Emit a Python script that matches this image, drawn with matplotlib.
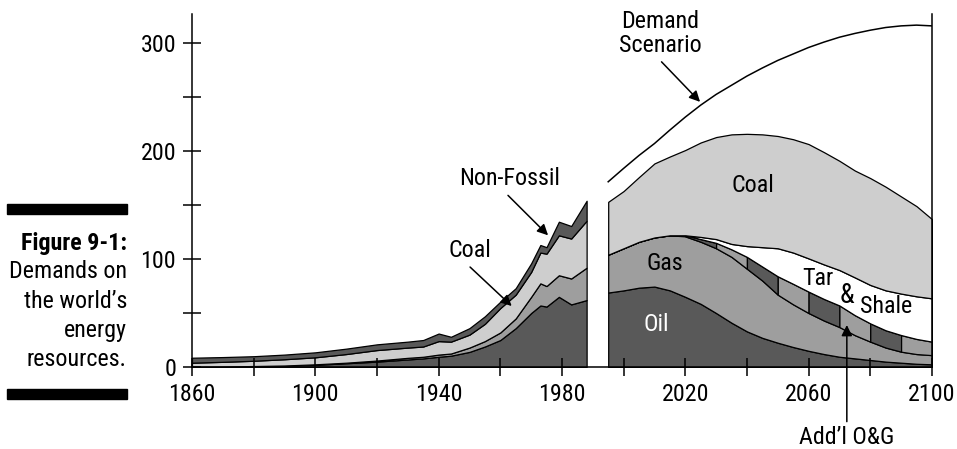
import numpy as np
import matplotlib
matplotlib.use("Agg")
from matplotlib import pyplot as plt
from matplotlib import font_manager as fm
from matplotlib.patches import Rectangle

# pick a narrow sans face if one is available
NARROW_STRETCH = {'ultra-condensed', 'extra-condensed', 'condensed', 'semi-condensed'}
entries = fm.fontManager.ttflist
family, stretch = 'DejaVu Sans', 'normal'
for name in ['Roboto Condensed', 'Liberation Sans Narrow', 'Arial Narrow', 'Open Sans Condensed']:
    if any(f.name == name for f in entries):
        family = name
        break
else:
    for name in ['Roboto', 'Noto Sans', 'Open Sans', 'DejaVu Sans', 'Liberation Sans']:
        hit = [f for f in entries if f.name == name and
               (f.stretch in NARROW_STRETCH or (isinstance(f.stretch, int) and f.stretch < 500))]
        if hit:
            family, stretch = name, 'condensed'
            break

plt.rcParams['font.family'] = [family, 'DejaVu Sans']
plt.rcParams['font.stretch'] = stretch

# size so that the label "Non-Fossil" is about 101 px wide
probe = plt.figure(dpi=100)
t = probe.text(0, 0, 'Non-Fossil', fontsize=17)
w = t.get_window_extent(renderer=probe.canvas.get_renderer()).width
plt.close(probe)
FS = float(np.clip(17 * 101 / w, 13, 20))
plt.rcParams['font.size'] = FS

DARK = '#595959'
MID = '#9e9e9e'
LIGHT = '#cecece'

# historical consumption by source, stacked bottom to top
hist_years = [1860, 1870, 1880, 1890, 1900, 1910, 1920, 1930, 1935, 1940, 1944,
              1950, 1955, 1960, 1965, 1970, 1973, 1975, 1979, 1983, 1988]
hist_oil = [0.3, 0.5, 0.8, 1.2, 2, 3.5, 5, 7, 8, 9.5, 10.5,
            14, 19, 25, 36, 50, 57, 56, 65, 58, 62]
hist_gas = [0, 0, 0.1, 0.2, 0.5, 0.5, 1, 1.5, 1.5, 2, 2,
            4, 5, 7, 9, 15, 20.5, 19, 20, 24, 30]
hist_coal = [3.7, 4.3, 4.9, 5.8, 6.5, 8, 9.7, 9.5, 9.5, 12.5, 11,
             12, 16, 22.6, 22, 23, 28.5, 30, 37, 37, 43.5]
hist_nonfossil = [4.6, 4.4, 4.2, 4.3, 4.6, 5, 5.3, 5.5, 6, 7, 4.5,
                  6, 7, 5.9, 6, 8, 7, 6, 12.6, 11.6, 18.5]

# projected supply by source, stacked bottom to top
proj_years = [1995, 2000, 2005, 2010, 2015, 2020, 2025, 2030, 2035, 2040, 2045,
              2050, 2055, 2060, 2065, 2070, 2075, 2080, 2085, 2090, 2095, 2100]
proj_oil = [69, 71, 73.5, 74.5, 71, 65, 58.5, 50, 41, 33, 27,
            22.5, 18.5, 15, 12, 9.5, 8, 6.5, 5, 4, 3, 2.5]
proj_gas = [35, 39, 42.5, 45.5, 51, 56, 57.5, 60, 61, 58, 53,
            44.5, 39.5, 35, 31, 27.5, 21.5, 17, 13, 10.2, 9, 8.5]
proj_addl_og = [0, 0, 0, 0, 0, 1, 2.5, 5, 7, 11, 13,
                17, 19, 19.8, 20, 20, 18.5, 16.9, 16, 15.4, 14, 12.5]
proj_tar_shale = [0, 0, 0, 0, 0, 0, 2, 3.5, 5, 10, 18,
                  26, 29, 30.8, 32, 32.8, 35, 35.6, 37, 38.4, 39.5, 40.1]
proj_coal = [49, 53, 60, 68.6, 73, 79, 87.5, 94.5, 101.5, 104, 104.5,
             104, 105, 105.9, 104, 101.2, 99, 99, 96, 90, 83.5, 73.4]
demand_scenario = [171.6, 184, 196, 207, 219.5, 231.5, 242.6, 252.5, 261, 269.5, 277,
                   284, 290, 296, 301, 305.5, 309, 312, 314.5, 316, 316.7, 316]

# decades that split the additional oil & gas band into alternating stripes
stripe_edges = [2020, 2030, 2040, 2050, 2060, 2070, 2080, 2090, 2100]

fig = plt.figure(figsize=(9.57, 4.49), dpi=100)
ax = fig.add_axes([0.2006, 0.1826, 0.7732, 0.7862])

edge = dict(edgecolor='black', linewidth=0.9)

# historical stack
hx = np.array(hist_years)
hs = np.cumsum(np.vstack([hist_oil, hist_gas, hist_coal, hist_nonfossil]), axis=0)
hist_colors = [DARK, MID, LIGHT, DARK]
lower = np.zeros(len(hx))
for top, col in zip(hs, hist_colors):
    ax.fill_between(hx, lower, top, facecolor=col, **edge)
    lower = top

# projection stack
px = np.array(proj_years)
ps = np.cumsum(np.vstack([proj_oil, proj_gas, proj_addl_og, proj_tar_shale, proj_coal]), axis=0)
oil_top, gas_top, band_top, coal_bottom, coal_top = ps
ax.fill_between(px, 0, oil_top, facecolor=DARK, **edge)
ax.fill_between(px, oil_top, gas_top, facecolor=MID, **edge)
for i in range(len(stripe_edges) - 1):
    m = (px >= stripe_edges[i]) & (px <= stripe_edges[i + 1])
    col = DARK if i % 2 == 0 else MID
    ax.fill_between(px[m], gas_top[m], band_top[m], facecolor=col, **edge)
ax.fill_between(px, band_top, coal_bottom, facecolor='white', **edge)
ax.fill_between(px, coal_bottom, coal_top, facecolor=LIGHT, **edge)

ax.plot(px, demand_scenario, color='black', lw=1.1)

# axes styling
ax.set_xlim(1860, 2100)
ax.set_ylim(0, 327)
ax.spines['top'].set_visible(False)
for s in ['left', 'right', 'bottom']:
    ax.spines[s].set_linewidth(1.1)
ax.set_yticks([0, 100, 200, 300])
ax.set_yticks([50, 150, 250], minor=True)
ax.set_xticks([1860, 1900, 1940, 1980, 2020, 2060, 2100])
ax.set_xticks([1880, 1920, 1960, 2000, 2040, 2080], minor=True)
ax.tick_params(which='both', direction='inout', length=13, width=1.1, pad=5,
               labelsize=FS)
ax.tick_params(axis='y', which='both', right=False)

arrow = dict(arrowstyle='-|>', color='black', lw=1.1, mutation_scale=16,
             shrinkA=0, shrinkB=0)

ax.text(1963.1, 175, 'Non-Fossil', ha='center', va='center')
ax.annotate('', xy=(1975.5, 122), xytext=(1962.5, 159), arrowprops=arrow)
ax.text(1950.2, 108, 'Coal', ha='center', va='center')
ax.annotate('', xy=(1963.7, 56.5), xytext=(1950.2, 92.6), arrowprops=arrow)
ax.text(2011.8, 309, 'Demand\nScenario', ha='center', va='center', linespacing=1.05)
ax.annotate('', xy=(2024.8, 245.6), xytext=(2012.3, 282.7), arrowprops=arrow)
ax.text(2042, 168.5, 'Coal', ha='center', va='center')
ax.text(2013.4, 96, 'Gas', ha='center', va='center')
ax.text(2010.7, 39, 'Oil', ha='center', va='center', color='white')
ax.text(2063, 82.4, 'Tar', ha='center', va='center')
ax.text(2072.4, 66.7, '&', ha='center', va='center', fontsize=FS * 1.12)
ax.text(2085.3, 55.8, 'Shale', ha='center', va='center')
ax.text(2072.4, -65.7, 'Add\u2019l O&G', ha='center', va='center', clip_on=False)
ax.annotate('', xy=(2072.4, 38.9), xytext=(2072.4, -50.6), arrowprops=arrow,
            annotation_clip=False)

# side caption
W, H = 957, 449
fig.add_artist(Rectangle((7 / W, 1 - 214 / H), 120 / W, 10 / H,
                         transform=fig.transFigure, color='black'))
fig.add_artist(Rectangle((7 / W, 1 - 399 / H), 120 / W, 10 / H,
                         transform=fig.transFigure, color='black'))
fig.text(127 / W, 1 - 243 / H, 'Figure 9-1:', ha='right', va='center',
         fontweight='bold', fontsize=FS)
caption = ['Demands on', 'the world\u2019s', 'energy', 'resources.']
for k, line in enumerate(caption):
    fig.text(127 / W, 1 - (272 + 29 * k) / H, line, ha='right', va='center',
             fontsize=FS)

fig.savefig('out.png', dpi=100)
